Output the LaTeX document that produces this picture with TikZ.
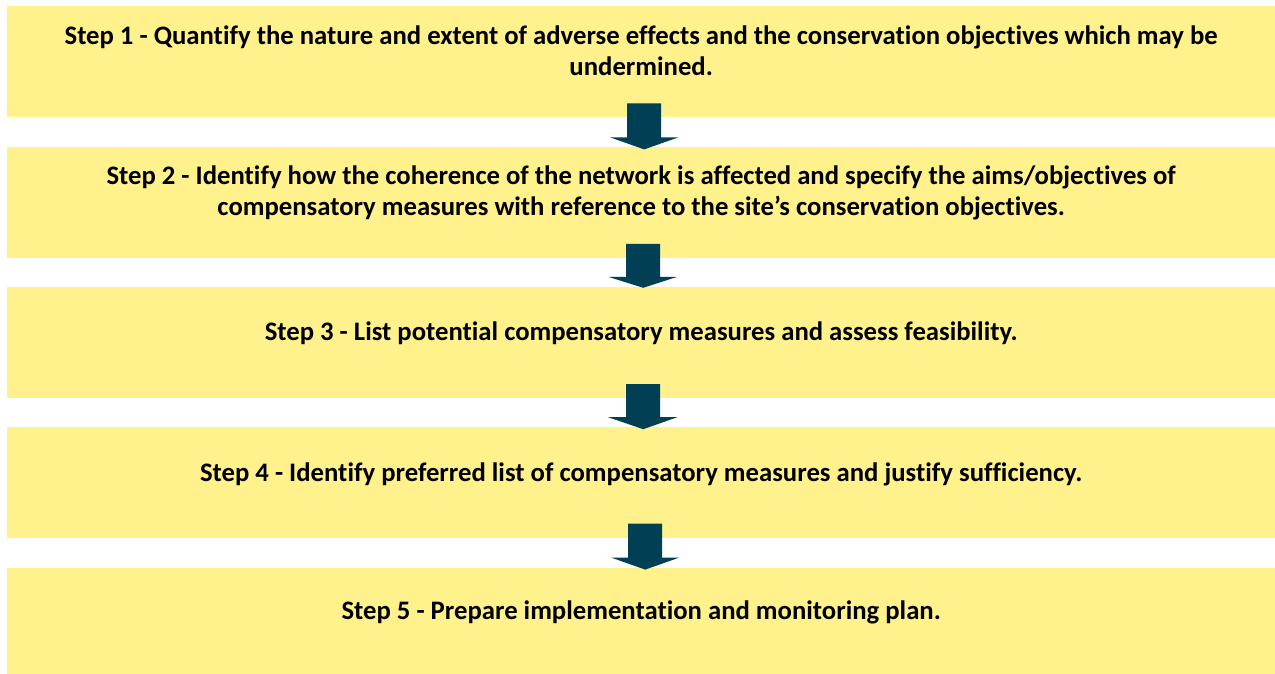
\documentclass[tikz,border=0pt]{standalone}
\usepackage{fontspec}
\setmainfont{Carlito}[Ligatures=NoCommon]
\usepackage{xcolor}
\usepackage{tikz}
\usetikzlibrary{positioning,calc}
\definecolor{stepyellow}{RGB}{255,242,140}
\definecolor{arrowteal}{RGB}{1,63,84}
\tikzstyle{stepbox}=[rectangle, fill=stepyellow, text=black, align=center, inner sep=0pt,
        minimum width=1268pt, minimum height=111pt, text depth=22pt,
        font=\fontsize{26.7}{31}\selectfont\bfseries]
\tikzstyle{blockarrow}=[fill=arrowteal]

\begin{document}
\begin{tikzpicture}[node distance=29pt]
    \useasboundingbox (0,0) rectangle (1275pt,-673pt);
    \node (Step1) [stepbox, anchor=north west] at (7pt,-6pt)
        {Step 1 - Quantify the nature and extent of adverse effects and the conservation objectives which may be\\
         undermined.};
    \node (Step2) [stepbox, below=of Step1]
        {Step 2 - Identify how the coherence of the network is affected and specify the aims/objectives of\\
         compensatory measures with reference to the site’s conservation objectives.};
    \node (Step3) [stepbox, below=of Step2]
        {Step 3 - List potential compensatory measures and assess feasibility.};
    \node (Step4) [stepbox, below=of Step3]
        {Step 4 - Identify preferred list of compensatory measures and justify sufficiency.};
    \node (Step5) [stepbox, below=of Step4, minimum height=106pt]
        {Step 5 - Prepare implementation and monitoring plan.};
    % block arrows between the steps
    \fill[blockarrow] ($(Step1.south)+(-14pt,14pt)$) -- ($(Step1.south)+(20pt,14pt)$)
        -- ($(Step1.south)+(20pt,-20pt)$) -- ($(Step1.south)+(37pt,-20pt)$)
        -- ($(Step2.north)+(3pt,-3pt)$) -- ($(Step1.south)+(-31pt,-20pt)$)
        -- ($(Step1.south)+(-14pt,-20pt)$) -- cycle;
    \fill[blockarrow] ($(Step2.south)+(-15pt,14pt)$) -- ($(Step2.south)+(19pt,14pt)$)
        -- ($(Step2.south)+(19pt,-19pt)$) -- ($(Step2.south)+(36pt,-19pt)$)
        -- ($(Step3.north)+(2pt,-1pt)$) -- ($(Step2.south)+(-33pt,-19pt)$)
        -- ($(Step2.south)+(-15pt,-19pt)$) -- cycle;
    \fill[blockarrow] ($(Step3.south)+(-15pt,14pt)$) -- ($(Step3.south)+(19pt,14pt)$)
        -- ($(Step3.south)+(19pt,-19pt)$) -- ($(Step3.south)+(36pt,-19pt)$)
        -- ($(Step4.north)+(2pt,-2pt)$) -- ($(Step3.south)+(-33pt,-19pt)$)
        -- ($(Step3.south)+(-15pt,-19pt)$) -- cycle;
    \fill[blockarrow] ($(Step4.south)+(-13pt,15pt)$) -- ($(Step4.south)+(21pt,15pt)$)
        -- ($(Step4.south)+(21pt,-19pt)$) -- ($(Step4.south)+(38pt,-19pt)$)
        -- ($(Step5.north)+(4pt,-2pt)$) -- ($(Step4.south)+(-30pt,-19pt)$)
        -- ($(Step4.south)+(-13pt,-19pt)$) -- cycle;
\end{tikzpicture}
\end{document}
